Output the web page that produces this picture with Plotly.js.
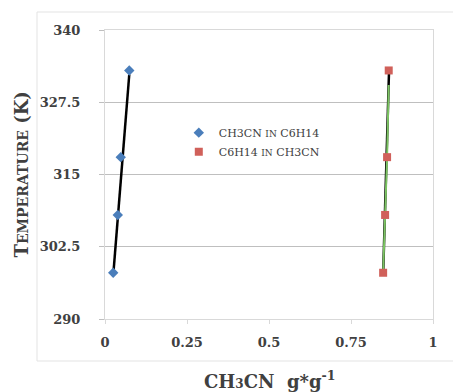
<!DOCTYPE html>
<html>
<head>
<meta charset="utf-8">
<script src="https://cdn.plot.ly/plotly-3.0.1.min.js"></script>
<style>html,body{margin:0;padding:0;background:#fff;}#chart{width:453px;height:392px;}</style>
</head>
<body>
<div id="chart"></div>
<script>
// Measured points
var blueX = [0.025, 0.039, 0.048, 0.074];
var blueT = [298, 308, 318, 333];
var redX = [0.848, 0.854, 0.860, 0.865];
var redT = [298, 308, 318, 333];
// Model / fit lines
var blueLineX = [0.025, 0.074];
var blueLineT = [297.5, 332.3];
var redBlackX = [0.848, 0.866];
var redBlackT = [297.6, 333];
var greenX = [0.848, 0.854, 0.860, 0.865];
var greenT = [298, 308, 318, 330.5];
// Tick labels
var xTicks = [0, 0.25, 0.5, 0.75, 1];
var xTickText = ['0', '0.25', '0.5', '0.75', '1'];
var yTicks = [290, 302.5, 315, 327.5, 340];
var yTickText = ['290', '302.5', '315', '327.5', '340'];
var name1 = 'CH3CN <span style="font-size:9px">IN</span> C6H14';
var name2 = 'C6H14 <span style="font-size:9px">IN</span> CH3CN';

var FONT = 'DejaVu Serif';
var TXT = '#404040';

var traces = [
  {x: blueLineX, y: blueLineT, mode: 'lines', line: {color: '#000000', width: 2.5}, showlegend: false, hoverinfo: 'skip'},
  {x: redBlackX, y: redBlackT, mode: 'lines', line: {color: '#000000', width: 2.5}, showlegend: false, hoverinfo: 'skip'},
  {x: greenX, y: greenT, mode: 'lines', line: {color: '#7cc463', width: 2}, showlegend: false, hoverinfo: 'skip'},
  {x: blueX, y: blueT, mode: 'markers', name: name1, marker: {symbol: 'diamond', size: 8, color: '#4a7ebb'}},
  {x: redX, y: redT, mode: 'markers', name: name2, marker: {symbol: 'square', size: 8, color: '#d0605a'}}
];

var layout = {
  width: 453, height: 392,
  margin: {l: 105, r: 20, t: 30, b: 73},
  paper_bgcolor: '#ffffff', plot_bgcolor: '#ffffff',
  font: {family: FONT, color: TXT},
  showlegend: true,
  legend: {x: 0.225, y: 0.695, xanchor: 'left', yanchor: 'top', bgcolor: 'rgba(0,0,0,0)',
           font: {family: FONT, size: 11, color: TXT}, tracegroupgap: 0},
  xaxis: {range: [0, 1], tickvals: xTicks, ticktext: xTickText, showgrid: false, zeroline: false,
          showline: true, mirror: true, linecolor: '#d9d9d9', linewidth: 1,
          ticks: 'outside', ticklen: 4, tickcolor: '#d9d9d9', ticklabelstandoff: 7,
          tickfont: {family: FONT, size: 13, color: TXT, weight: 'bold'}},
  yaxis: {range: [290, 340], tickvals: yTicks, ticktext: yTickText, showgrid: true, gridcolor: '#bfbfbf', gridwidth: 1,
          zeroline: false, showline: true, mirror: true, linecolor: '#d9d9d9', linewidth: 1,
          ticks: 'outside', ticklen: 5, tickcolor: '#bfbfbf', ticklabelstandoff: 16,
          tickfont: {family: FONT, size: 13, color: TXT, weight: 'bold'}},
  annotations: [
    {xref: 'paper', yref: 'paper', x: (21 - 105) / 328, y: 0.5, xanchor: 'center', yanchor: 'middle',
     textangle: -90, showarrow: false,
     text: 'T<span style="font-size:14px">EMPERATURE</span> (K)',
     font: {family: FONT, size: 18, color: TXT, weight: 'bold'}},
    {xref: 'paper', yref: 'paper', x: (270 - 105) / 328, y: (319 - 380) / 289, xanchor: 'center', yanchor: 'middle',
     showarrow: false,
     text: 'CH<span style="font-size:12px">3</span>CN  g*g<sup>-1</sup>',
     font: {family: FONT, size: 18, color: TXT, weight: 'bold'}}
  ],
  shapes: [
    {type: 'rect', xref: 'paper', yref: 'paper', x0: (37 - 105) / 328, x1: (456 - 105) / 328,
     y0: (319 - 361) / 289, y1: 1 + (30 - 12) / 289, line: {color: '#e3e3e3', width: 1}, layer: 'below'}
  ]
};

Plotly.newPlot('chart', traces, layout, {displayModeBar: false, staticPlot: true});
</script>
</body>
</html>
